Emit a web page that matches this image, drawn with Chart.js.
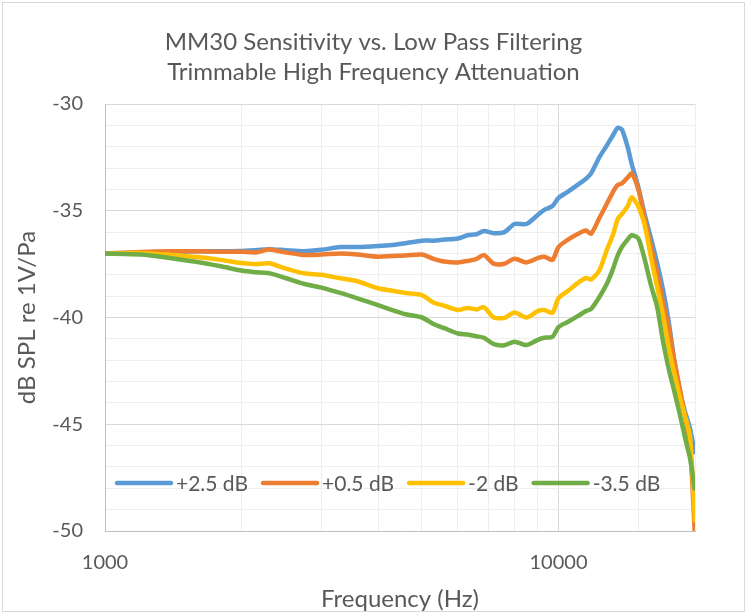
<!DOCTYPE html>
<html>
<head>
<meta charset="utf-8">
<script src="https://cdn.jsdelivr.net/npm/chart.js@4.4.1/dist/chart.umd.min.js"></script>
<style>
  html, body { margin: 0; padding: 0; background: #fff; }
  canvas { display: block; }
</style>
</head>
<body>
<canvas id="chart" width="747" height="614"></canvas>
<script>
// frequency points (Hz), shared by all series
const freqs = [1000, 1200, 1400, 1600, 1800, 2000, 2150, 2300, 2500, 2750, 3000, 3300, 3600, 4000, 4300, 4600,
  5000, 5300, 5600, 6000, 6300, 6600, 6850, 7200, 7600, 8000, 8500, 9000, 9300, 9700, 10000, 10500, 11000,
  11500, 11800, 12300, 12800, 13200, 13500, 13800, 14200, 14500, 15000, 15500, 16000, 16500, 17000, 17500,
  18000, 18500, 19000, 19500, 20000]

// dB SPL re 1V/Pa
const plus25 = [-37.0, -36.97, -36.93, -36.9, -36.9, -36.88, -36.85, -36.8, -36.85, -36.9, -36.83, -36.7, -36.7,
  -36.65, -36.6, -36.52, -36.4, -36.4, -36.35, -36.3, -36.15, -36.1, -35.95, -36.05, -36.0, -35.62, -35.62, -35.2,
  -34.96, -34.78, -34.4, -34.1, -33.8, -33.5, -33.25, -32.5, -31.92, -31.45, -31.12, -31.2, -32.0, -32.8, -33.9,
  -35.2, -36.3, -37.45, -38.7, -40.2, -42.0, -43.4, -44.4, -45.2, -46.4]

const plus05 = [-37.0, -36.93, -36.9, -36.9, -36.92, -36.92, -36.95, -36.82, -36.95, -37.07, -37.05, -37.0, -37.05,
  -37.15, -37.12, -37.1, -37.05, -37.25, -37.38, -37.42, -37.35, -37.25, -37.08, -37.48, -37.48, -37.25, -37.42,
  -37.22, -37.15, -37.3, -36.7, -36.35, -36.1, -35.93, -36.08, -35.35, -34.65, -34.1, -33.8, -33.72, -33.45, -33.25,
  -34.0, -35.4, -36.7, -37.9, -39.3, -40.5, -42.0, -43.3, -44.6, -46.0, -50.3]

const minus2 = [-37.0, -36.98, -37.07, -37.17, -37.3, -37.45, -37.5, -37.46, -37.7, -37.93, -38.0, -38.16, -38.3,
  -38.63, -38.75, -38.85, -38.95, -39.3, -39.45, -39.65, -39.55, -39.62, -39.52, -40.0, -40.02, -39.77, -40.0,
  -39.7, -39.65, -39.78, -39.1, -38.75, -38.4, -38.15, -38.22, -37.8, -36.8, -36.1, -35.4, -35.15, -34.8, -34.37,
  -34.8, -35.7, -37.2, -38.55, -39.9, -41.4, -42.6, -43.7, -44.6, -45.6, -49.6]

const minus35 = [-37.0, -37.05, -37.22, -37.4, -37.6, -37.8, -37.88, -37.92, -38.15, -38.43, -38.6, -38.85, -39.1,
  -39.42, -39.65, -39.85, -40.0, -40.3, -40.5, -40.75, -40.8, -40.88, -40.95, -41.25, -41.3, -41.13, -41.29,
  -41.05, -40.95, -40.9, -40.45, -40.2, -39.95, -39.7, -39.6, -39.05, -38.4, -37.7, -37.1, -36.7, -36.35, -36.15,
  -36.3, -37.3, -38.5, -39.5, -41.1, -42.4, -43.45, -44.5, -45.6, -46.6, -48.1]

const seriesNames = ['+2.5 dB', '+0.5 dB', '-2 dB', '-3.5 dB']
const seriesValues = [plus25, plus05, minus2, minus35]
const seriesColors = ['#5b9bd5', '#ed7d31', '#ffc000', '#70ad47']

const xTickLabels = [1000, 10000]
const yLabelStep = 5

const textColor = '#595959'
const fontFamily = 'Lato, "Open Sans", sans-serif'

// white background + thin outer frame like the office chart
const framePlugin = {
  id: 'frame',
  afterLayout(chart) {
    // center the title on the whole canvas, not just the padded box
    if (chart.titleBlock) {
      chart.titleBlock.left = 0
      chart.titleBlock.right = chart.width
      chart.titleBlock.width = chart.width
    }
  },
  beforeDraw(chart) {
    const ctx = chart.ctx
    ctx.save()
    ctx.fillStyle = '#fff'
    ctx.fillRect(0, 0, chart.width, chart.height)
    ctx.strokeStyle = '#d9d9d9'
    ctx.lineWidth = 1
    ctx.strokeRect(2.5, 2.5, chart.width - 5, chart.height - 5)
    ctx.restore()
  }
}

// legend drawn inside the plot, near the bottom, in one row
const innerLegend = {
  id: 'innerLegend',
  afterDraw(chart) {
    const ctx = chart.ctx
    const area = chart.chartArea
    const y = area.bottom - 48
    let x = area.left + 12
    ctx.save()
    ctx.font = '21px ' + fontFamily
    ctx.textBaseline = 'middle'
    chart.data.datasets.forEach(ds => {
      ctx.strokeStyle = ds.borderColor
      ctx.lineWidth = 4.5
      ctx.lineCap = 'round'
      ctx.beginPath()
      ctx.moveTo(x, y)
      ctx.lineTo(x + 54, y)
      ctx.stroke()
      ctx.fillStyle = textColor
      ctx.fillText(ds.label, x + 59, y + 1)
      x += 59 + ctx.measureText(ds.label).width + 15
    })
    ctx.restore()
  }
}

const datasets = seriesNames.map((name, i) => ({
  label: name,
  data: freqs.map((f, j) => ({ x: f, y: seriesValues[i][j] })),
  borderColor: seriesColors[i],
  backgroundColor: seriesColors[i],
  borderWidth: 4.5,
  pointRadius: 0,
  tension: 0.25,
  fill: false,
  order: seriesNames.length - i
}))

new Chart(document.getElementById('chart'), {
  type: 'line',
  data: { datasets },
  plugins: [framePlugin, innerLegend],
  options: {
    responsive: false,
    animation: false,
    devicePixelRatio: 1,
    layout: { padding: { left: 0, right: 52, top: 0, bottom: 0 } },
    plugins: {
      legend: { display: false },
      tooltip: { enabled: false },
      title: {
        display: true,
        text: ['MM30 Sensitivity vs. Low Pass Filtering', 'Trimmable High Frequency Attenuation'],
        color: textColor,
        font: { family: fontFamily, size: 24, weight: 'normal', lineHeight: 1.25 },
        padding: { top: 27, bottom: 17 }
      }
    },
    scales: {
      x: {
        type: 'logarithmic',
        min: 1000,
        max: 20000,
        afterFit(scale) { scale.height = 83 },
        border: { color: '#bfbfbf', width: 1 },
        grid: {
          drawTicks: false,
          color: ctx => (ctx.tick && ctx.tick.value === 10000) ? '#d9d9d9' : '#eeeeee'
        },
        ticks: {
          autoSkip: false,
          maxRotation: 0,
          padding: 20,
          color: textColor,
          font: { family: fontFamily, size: 20 },
          callback: v => xTickLabels.includes(v) ? String(v) : ''
        },
        title: {
          display: true,
          text: 'Frequency (Hz)',
          color: textColor,
          font: { family: fontFamily, size: 24 },
          padding: { top: 2, bottom: 0 }
        }
      },
      y: {
        min: -50,
        max: -30,
        afterFit(scale) { scale.width = 105 },
        border: { color: '#bfbfbf', width: 1 },
        grid: {
          drawTicks: false,
          color: ctx => (ctx.tick && ctx.tick.value % yLabelStep === 0) ? '#d9d9d9' : '#eeeeee'
        },
        ticks: {
          stepSize: 1,
          autoSkip: false,
          padding: 22,
          color: textColor,
          font: { family: fontFamily, size: 20 },
          callback: v => v % yLabelStep === 0 ? String(v) : ''
        },
        title: {
          display: true,
          text: 'dB SPL re 1V/Pa',
          color: textColor,
          font: { family: fontFamily, size: 24 },
          padding: { top: 13, bottom: 0 }
        }
      }
    }
  }
})
</script>
</body>
</html>
